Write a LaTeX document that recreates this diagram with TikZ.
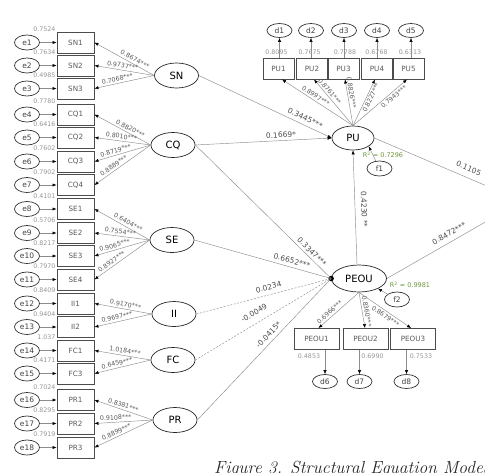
\documentclass[tikz,border=0pt]{standalone}
\usepackage{fontspec}
\newfontfamily\dvs{DejaVu Sans}
\usetikzlibrary{arrows.meta,shapes.geometric,calc}
\definecolor{vgray}{RGB}{150,150,150}
\definecolor{rgreen}{RGB}{110,150,60}
\begin{document}
\begin{tikzpicture}[x=1pt,y=-1pt,
  errnode/.style={ellipse,draw=black!80,line width=0.7pt,minimum width=25pt,minimum height=15pt,inner sep=0pt,font=\dvs\fontsize{7.5}{8}\selectfont,text=black!75},
  obs/.style={rectangle,draw=black!70,line width=0.9pt,minimum width=37pt,minimum height=21pt,inner sep=0pt,font=\dvs\fontsize{7.2}{8}\selectfont,text=black!65},
  pubox/.style={obs,minimum width=31pt},
  pebox/.style={obs,minimum width=45pt,minimum height=21pt},
  latent/.style={ellipse,draw=black!85,line width=0.7pt,minimum width=44pt,minimum height=25pt,inner sep=0pt,font=\dvs\fontsize{10}{11}\selectfont},
  lin/.style={draw=black!45,line width=0.45pt},
  conn/.style={lin,-{Latex[length=4pt,width=3.2pt,color=black]}},
  connR/.style={lin,{Latex[length=4pt,width=3.2pt,color=black]}-},
  dashline/.style={lin,dash pattern=on 2pt off 1.5pt},
  coef/.style={font=\dvs\fontsize{6.3}{7}\selectfont,text=black!65,inner sep=1pt,sloped},
  scoef/.style={font=\dvs\fontsize{7.5}{8}\selectfont,text=black!70,inner sep=1pt,sloped},
  errval/.style={font=\dvs\fontsize{6.3}{7}\selectfont,text=vgray,inner sep=0pt},
  rsq/.style={font=\dvs\fontsize{6.5}{7}\selectfont,text=rgreen,inner sep=0pt},
]
\useasboundingbox (0,0) rectangle (485,472);
\clip (0,0) rectangle (485,472);

% indicator boxes and error terms
\foreach \i/\lab/\yy/\ev in {1/SN1/42.5/0.7524, 2/SN2/65.5/0.7634, 3/SN3/88.5/0.4985,
  4/CQ1/114.5/0.7780, 5/CQ2/137.5/0.6416, 6/CQ3/161.5/0.7602, 7/CQ4/185/0.7902,
  8/SE1/209/0.4101, 9/SE2/233/0.5706, 10/SE3/256/0.8217, 11/SE4/279.5/0.7970,
  12/II1/303.5/0.8409, 13/II2/327/0.9404, 14/FC1/350.5/1.037, 15/FC3/373.5/0.4171,
  16/PR1/400/0.7024, 17/PR2/423.5/0.8295, 18/PR3/447.5/0.7919}{
  \node[obs] (b\i) at (75.5,\yy) {\lab};
  \node[errnode] (e\i) at (27,\yy) {e\i};
  \draw[conn] (e\i) -- (b\i);
  \node[errval,anchor=east] (v\i) at (55.5,{\yy-13}) {\ev};
}

% exogenous latents
\node[latent] (SN) at (176.5,75.5) {SN};
\node[latent] (CQ) at (173,145) {CQ};
\node[latent] (SE) at (172,240) {SE};
\node[latent] (II) at (174,314) {II};
\node[latent] (FC) at (173,360) {FC};
\node[latent] (PR) at (175,420) {PR};

% loadings (left)
\foreach \b/\L/\v/\p in {1/SN/0.8674***/.64, 2/SN/0.9737***/.46, 3/SN/0.7068***/.40,
  4/CQ/0.8820***/.60, 5/CQ/0.8010***/.47, 6/CQ/0.8719***/.40, 7/CQ/0.8889***/.39,
  8/SE/0.6404***/.57, 9/SE/0.7554***/.46, 10/SE/0.9065***/.39, 11/SE/0.8927***/.36,
  12/II/0.9170***/.53, 13/II/0.9697***/.41,
  14/FC/1.0184***/.53, 15/FC/0.6459***/.42,
  16/PR/0.8381***/.47, 17/PR/0.9108***/.37, 18/PR/0.8899***/.41}{
  \draw[connR] (b\b.east) -- node[coef,pos=\p,above=1pt] {\v} (\L.west);
}

% endogenous latents
\node[latent,minimum width=42pt,minimum height=24pt] (PU) at (353,138) {PU};
\node[latent,minimum width=55pt,minimum height=27pt] (PEOU) at (359,278.5) {PEOU};
\node[errnode] (f1) at (379.5,168.5) {f1};
\node[errnode] (f2) at (397,299.5) {f2};
\node[circle,fill=black,inner sep=0pt,minimum size=5.5pt] (dot) at (PEOU.west) {};

% PU indicators
\foreach \k/\x/\dx/\ev/\evx in {1/278.5/279.5/0.8095/276.5, 2/312/311/0.7675/309.7, 3/343.5/344/0.7788/345,
  4/377/377/0.6768/376.5, 5/408.5/411/0.6313/410}{
  \node[pubox] (PU\k) at (\x,68.5) {PU\k};
  \node[errnode,minimum height=14pt] (d\k) at (\dx,30.5) {d\k};
  \draw[conn] (d\k.south |- PU\k.north) -- (d\k.south);
  \node[errval] at (\evx,52.5) {\ev};
}
\draw[connR] ($(PU1.south)+(3.5,0)$) -- node[coef,pos=.44,above=1pt] {0.8997***} (PU.north);
\draw[connR] ($(PU2.south)+(2,0)$) -- node[coef,pos=.32,above=0.5pt] {0.8761***} (PU.north);
\draw[connR] ($(PU3.south)+(1.5,0)$) -- node[coef,pos=.3,above=0.5pt] {0.8826***} (PU.north);
\draw[connR] ($(PU4.south)+(-2,0)$) -- node[coef,pos=.35,below=0.5pt] {0.8227***} (PU.north);
\draw[connR] ($(PU5.south)+(-1.5,0)$) -- node[coef,pos=.3,below=1pt] {0.7943***} (PU.north);

% PEOU indicators
\node[pebox] (PEOU1) at (316.5,339) {PEOU1};
\node[pebox] (PEOU2) at (365.5,339) {PEOU2};
\node[pebox] (PEOU3) at (413,339) {PEOU3};
\node[errnode,minimum height=14pt] (d6) at (325,381.5) {d6};
\node[errnode,minimum height=14pt] (d7) at (359.5,381.5) {d7};
\node[errnode,minimum height=14pt] (d8) at (406.5,381.5) {d8};
\draw[conn] (d6.north |- PEOU1.south) -- (d6.north);
\draw[conn] (d7.north |- PEOU2.south) -- (d7.north);
\draw[conn] (d8.north |- PEOU3.south) -- (d8.north);
\node[errval] at (309,356) {0.4853};
\node[errval] at (372.5,356) {0.6990};
\node[errval] at (421,356) {0.7533};
\draw[connR] ($(PEOU1.north)+(2,0)$) -- node[coef,pos=.35,above=1pt] {0.6966***} (PEOU.south);
\draw[conn] (PEOU.south) -- node[coef,pos=.55,above=1pt] {0.8360***} ($(PEOU2.north)+(-0.5,0)$);
\draw[conn] (PEOU.south) -- node[coef,pos=.56,below=1pt] {0.8679***} ($(PEOU3.north)+(-2,0)$);

% structural paths
\draw[conn] (SN.east) -- node[scoef,pos=.78,above=2.5pt] {0.3445***} (PU.west);
\draw[conn] (CQ.east) -- node[scoef,pos=.63,above=1.5pt] {0.1669*} (PU.west);
\draw[lin] (CQ.east) -- node[scoef,pos=.83,above=1.5pt] {0.3347***} (dot.center);
\draw[lin] (SE.east) -- node[scoef,pos=.7,above=2.5pt] {0.6652***} (dot.center);
\draw[dashline] (II.east) -- node[scoef,pos=.55,above=3.5pt] {0.0234} (dot.center);
\draw[dashline] (FC.east) -- node[scoef,pos=.47,above=6pt] {-0.0049} (dot.center);
\draw[lin] (PR.east) -- node[scoef,pos=.57,above=3pt] {-0.0415*} (dot.center);
\draw[connR] (PU.south) -- node[scoef,pos=.52,above=5pt] {0.4230 **} ($(PEOU.north)+(-2,0)$);
\draw[conn] (f1) -- (PU.-28);
\draw[conn] (f2) -- (PEOU.-28);
\node[rsq] (r1) at (383,155) {R\textsuperscript{2} = 0.7296};
\node[rsq] (r2) at (410,285) {R\textsuperscript{2} = 0.9981};

% paths leaving the picture
\coordinate (BI) at (522,201);
\draw[lin] (PU.east) -- node[scoef,pos=.615,above=5pt] {0.1105} (BI);
\draw[lin] (PEOU.east) -- node[scoef,pos=.49,above=4pt] {0.8472***} (BI);

% caption
\node[anchor=base west,inner sep=0pt,font=\itshape\fontsize{17.5}{19}\selectfont,text=black!85] (cap) at (214,473.5) {Figure 3. Structural Equation Model};
\end{tikzpicture}
\end{document}
